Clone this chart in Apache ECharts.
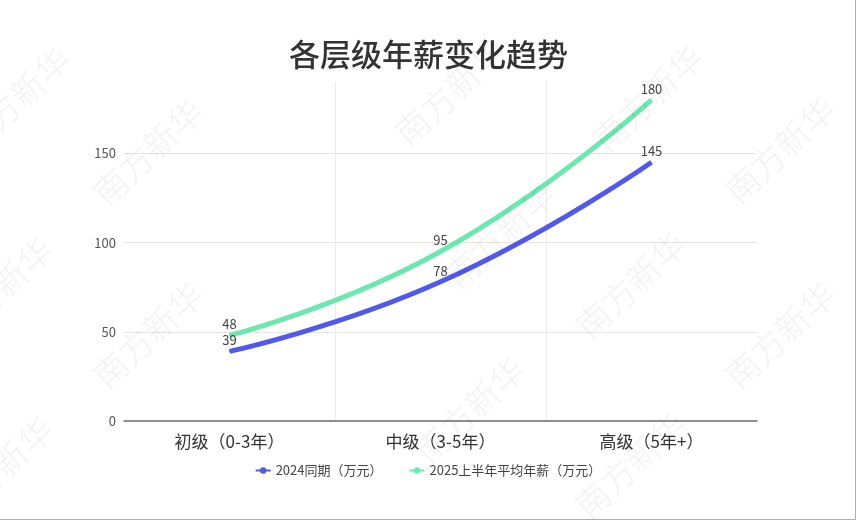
<!DOCTYPE html>
<html>
<head>
<meta charset="utf-8">
<script src="https://cdn.jsdelivr.net/npm/echarts@6/dist/echarts.min.js"></script>
<style>
html,body{margin:0;padding:0;background:#fff;}
#chart{width:856px;height:520px;}
</style>
</head>
<body>
<div id="chart"></div>
<script>
const titleText = '各层级年薪变化趋势';
const categories = ['初级（0-3年）', '中级（3-5年）', '高级（5年+）'];
const seriesNames = ['2024同期（万元）', '2025上半年平均年薪（万元）'];
const values2024 = [39, 78, 145];
const values2025 = [48, 95, 180];
const watermarkText = '南方新华';
const watermarkCenters = [
  [15, 100], [148, 152], [-2, 290], [148, 335], [-2, 470],
  [450, 92], [648, 98], [780, 150], [500, 235], [631, 285],
  [780, 335], [470, 410], [630, 465]
];

const FONT = '"Noto Sans CJK SC", "Noto Sans", sans-serif';
const chart = echarts.init(document.getElementById('chart'), null, {renderer: 'canvas'});

const graphics = watermarkCenters.map(c => ({
  type: 'text',
  x: c[0], y: c[1],
  rotation: 43 * Math.PI / 180,
  z: 100, silent: true,
  style: {
    text: watermarkText,
    fontSize: 34, fontWeight: 300, fontFamily: FONT,
    fill: 'rgba(0,0,0,0.055)',
    align: 'center', verticalAlign: 'middle'
  }
}));
graphics.push({
  type: 'line', silent: true,
  shape: {x1: 855.5, y1: 0, x2: 855.5, y2: 520},
  style: {stroke: '#b0b0b0', lineWidth: 1}
});
graphics.push({
  type: 'line', silent: true,
  shape: {x1: 0, y1: 519.5, x2: 856, y2: 519.5},
  style: {stroke: '#b0b0b0', lineWidth: 1}
});

const labelCfg = {show: true, position: 'top', fontSize: 13, color: '#444', distance: 4, fontFamily: FONT};

const option = {
  backgroundColor: '#fff',
  animation: false,
  textStyle: {fontFamily: FONT},
  title: {
    text: titleText,
    left: 284, top: 34,
    textStyle: {fontSize: 31, fontWeight: 500, color: '#333', fontFamily: FONT}
  },
  grid: {left: 124, right: 99, top: 82, bottom: 99, containLabel: false},
  legend: {
    bottom: 38, left: 'center',
    itemWidth: 15, itemHeight: 8, itemGap: 26,
    textStyle: {fontSize: 13, color: '#444', fontFamily: FONT},
    data: seriesNames
  },
  xAxis: {
    type: 'category',
    data: categories,
    boundaryGap: true,
    axisLine: {lineStyle: {color: '#6e6e6e', width: 1.5}},
    axisTick: {alignWithLabel: true, length: 5, lineStyle: {color: '#6e6e6e'}},
    axisLabel: {fontSize: 17, color: '#333', margin: 12, fontFamily: FONT},
    splitLine: {show: true, showMinLine: false, showMaxLine: false, lineStyle: {color: '#ebebeb'}}
  },
  yAxis: {
    type: 'value',
    min: 0, max: 190, interval: 50,
    axisLine: {show: false},
    axisTick: {show: false},
    axisLabel: {fontSize: 13, color: '#555', margin: 8, showMaxLabel: false, fontFamily: FONT},
    splitLine: {show: true, showMaxLine: false, lineStyle: {color: '#e6e4de'}}
  },
  series: [
    {
      name: seriesNames[0], type: 'line', data: values2024,
      smooth: true, symbol: 'circle', symbolSize: 1, showSymbol: true,
      lineStyle: {width: 5, color: '#5059ea'},
      itemStyle: {color: '#5059ea'},
      label: labelCfg
    },
    {
      name: seriesNames[1], type: 'line', data: values2025,
      smooth: true, symbol: 'circle', symbolSize: 1, showSymbol: true,
      lineStyle: {width: 5, color: '#6ee6b0'},
      itemStyle: {color: '#6ee6b0'},
      label: labelCfg
    }
  ],
  graphic: graphics
};
chart.setOption(option);
</script>
</body>
</html>
